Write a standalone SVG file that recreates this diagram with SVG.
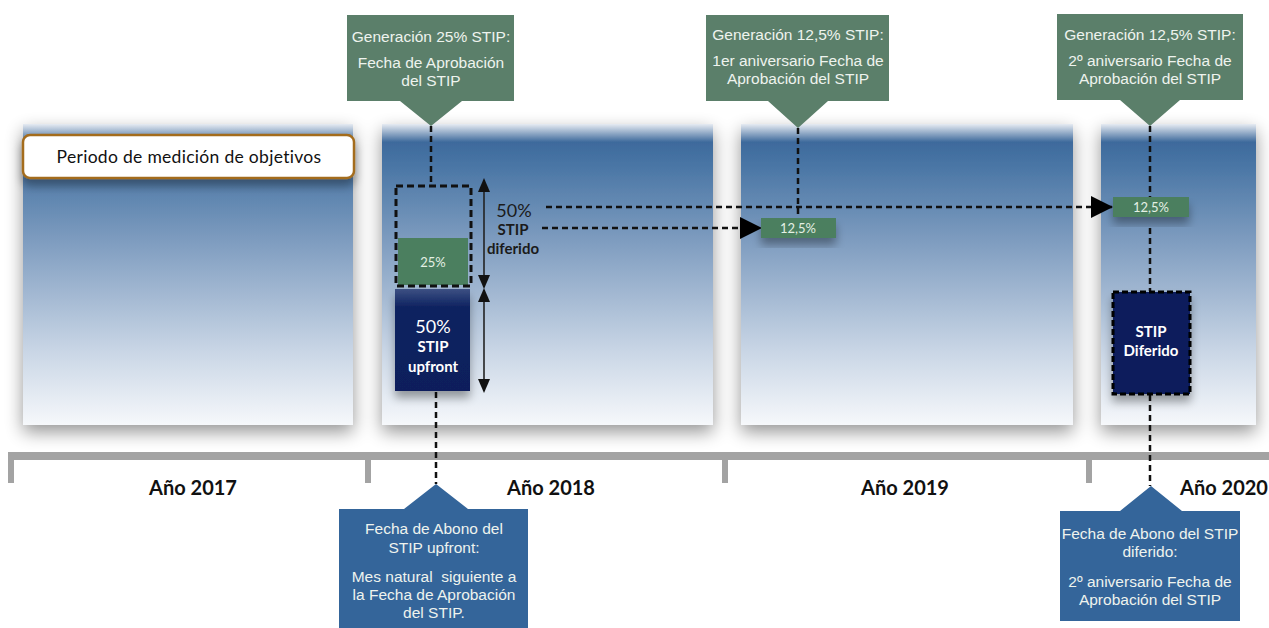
<svg xmlns="http://www.w3.org/2000/svg" width="1269" height="628" viewBox="0 0 1269 628">
  <defs>
    <style>
      .callout-top { fill: #5b7f6a; }
      .callout-bot { fill: #34659a; }
      .ctext { font-family: "Liberation Sans", Arial, sans-serif; font-size: 15.5px; fill: #eef3ee; text-anchor: middle; white-space: pre; }
      .year { font-family: Lato, "Open Sans", sans-serif; font-size: 20px; font-weight: bold; fill: #111; text-anchor: middle; }
      .pct { font-family: Lato, "Open Sans", sans-serif; font-size: 13px; fill: #e4f0e4; text-anchor: middle; }
      .bold-w { font-family: Lato, "Open Sans", sans-serif; font-size: 15px; font-weight: bold; fill: #ffffff; text-anchor: middle; }
      .bold-d { font-family: Lato, "Open Sans", sans-serif; font-size: 15px; font-weight: bold; fill: #1b1b1b; text-anchor: middle; }
      .big-w { font-family: Lato, "Open Sans", sans-serif; font-size: 18px; fill: #ffffff; text-anchor: middle; }
      .big-d { font-family: Lato, "Open Sans", sans-serif; font-size: 18px; fill: #1b1b1b; text-anchor: middle; }
      .dash { fill: none; stroke: #111; stroke-width: 2.5; stroke-dasharray: 6 4; }
      .dbl { stroke: #222; stroke-width: 1.6; }
      .green-box { fill: #4b7f5f; }
      .navy { fill: #0b1f5c; }
    </style>
    <linearGradient id="panelGrad" x1="0" y1="0" x2="0" y2="1">
      <stop offset="0" stop-color="#e6ebf2"/>
      <stop offset="0.06" stop-color="#3e6a9c"/>
      <stop offset="0.12" stop-color="#4673a3"/>
      <stop offset="0.45" stop-color="#8ba6c6"/>
      <stop offset="0.75" stop-color="#c8d5e5"/>
      <stop offset="1" stop-color="#f6f8fb"/>
    </linearGradient>
    <linearGradient id="navyGrad" x1="0" y1="0" x2="0" y2="1">
      <stop offset="0" stop-color="#3d5083"/>
      <stop offset="0.18" stop-color="#0d2260"/>
      <stop offset="1" stop-color="#0b1f5c"/>
    </linearGradient>
    <filter id="panelShadow" x="-20%" y="-20%" width="140%" height="140%">
      <feGaussianBlur in="SourceAlpha" stdDeviation="9"/>
      <feOffset dy="7" result="b"/>
      <feComponentTransfer><feFuncA type="linear" slope="0.42"/></feComponentTransfer>
      <feMerge><feMergeNode/><feMergeNode in="SourceGraphic"/></feMerge>
    </filter>
    <filter id="boxShadow" x="-30%" y="-30%" width="160%" height="180%">
      <feGaussianBlur in="SourceAlpha" stdDeviation="5"/>
      <feOffset dy="7" result="b"/>
      <feComponentTransfer><feFuncA type="linear" slope="0.35"/></feComponentTransfer>
      <feMerge><feMergeNode/><feMergeNode in="SourceGraphic"/></feMerge>
    </filter>
    <marker id="arrowBig" viewBox="0 0 22 22" refX="22" refY="11" markerWidth="22" markerHeight="22" markerUnits="userSpaceOnUse" orient="auto">
      <path d="M0,0 L22,11 L0,22 Z" fill="#000"/>
    </marker>
    <marker id="arrowSmall" viewBox="0 0 14 12" refX="12" refY="6" markerWidth="14" markerHeight="12" markerUnits="userSpaceOnUse" orient="auto-start-reverse">
      <path d="M0,0 L14,6 L0,12 Z" fill="#111"/>
    </marker>
  </defs>

  <rect width="1269" height="628" fill="#ffffff"/>

  <!-- year panels -->
  <g id="panels" filter="url(#panelShadow)">
    <rect x="23" y="124" width="330" height="301" fill="url(#panelGrad)"/>
    <rect x="382" y="124" width="331" height="301" fill="url(#panelGrad)"/>
    <rect x="741" y="124" width="332" height="301" fill="url(#panelGrad)"/>
    <rect x="1101" y="124" width="155" height="301" fill="url(#panelGrad)"/>
  </g>

  <!-- timeline axis -->
  <g id="timeline" fill="#a3a3a3">
    <rect x="8" y="452" width="1261" height="8"/>
    <rect x="8" y="452" width="6" height="31"/>
    <rect x="365" y="452" width="6" height="31"/>
    <rect x="722" y="452" width="6" height="31"/>
    <rect x="1086" y="452" width="6" height="31"/>
  </g>
  <g id="years">
    <text class="year" x="193" y="495">Año 2017</text>
    <text class="year" x="551" y="495">Año 2018</text>
    <text class="year" x="905" y="495">Año 2019</text>
    <text class="year" x="1224" y="495">Año 2020</text>
  </g>

  <!-- connectors -->
  <g id="connectors">
    <line class="dash" x1="431" y1="126" x2="431" y2="184"/>
    <line class="dash" x1="436" y1="392" x2="436" y2="484"/>
    <line class="dash" x1="798" y1="128" x2="798" y2="218"/>
    <line class="dash" x1="1150" y1="126" x2="1150" y2="197"/>
    <line class="dash" x1="1150" y1="228" x2="1150" y2="291"/>
    <line class="dash" x1="1150" y1="395" x2="1150" y2="486"/>
    <line class="dash" x1="546" y1="207" x2="1113" y2="207" marker-end="url(#arrowBig)"/>
    <line class="dash" x1="542" y1="228" x2="762" y2="228" marker-end="url(#arrowBig)"/>
    <line class="dbl" x1="484" y1="180" x2="484" y2="287" marker-start="url(#arrowSmall)" marker-end="url(#arrowSmall)"/>
    <line class="dbl" x1="484" y1="290" x2="484" y2="391" marker-start="url(#arrowSmall)" marker-end="url(#arrowSmall)"/>
  </g>

  <!-- measurement period label -->
  <g id="periodo">
    <rect x="23" y="135" width="331" height="43" rx="7" fill="#ffffff" stroke="#a46c1e" stroke-width="2.5" filter="url(#boxShadow)"/>
    <text x="189" y="163" font-family="Lato, 'Open Sans', sans-serif" font-size="17.5" fill="#111" text-anchor="middle" letter-spacing="0.3">Periodo de medición de objetivos</text>
  </g>

  <!-- 2018: deferred block with 25% -->
  <g id="diferido-2018">
    <rect x="398" y="238" width="70" height="47" class="green-box"/>
    <text class="pct" x="433" y="267">25%</text>
    <rect x="396" y="186" width="75" height="100" fill="none" stroke="#111" stroke-width="3" stroke-dasharray="7 4"/>
  </g>
  <g id="upfront-2018">
    <rect x="395" y="289" width="75" height="102" fill="url(#navyGrad)" filter="url(#boxShadow)"/>
    <text class="big-w" x="433" y="333">50%</text>
    <text class="bold-w" x="433" y="352">STIP</text>
    <text class="bold-w" x="433" y="372">upfront</text>
  </g>
  <g id="label-diferido">
    <text class="big-d" x="514" y="217">50%</text>
    <text class="bold-d" x="513" y="235">STIP</text>
    <text class="bold-d" x="513" y="254">diferido</text>
  </g>

  <!-- 2019: 12,5% -->
  <g id="pct-2019">
    <rect x="761" y="218" width="75" height="20" class="green-box" filter="url(#boxShadow)"/>
    <text class="pct" x="798" y="233">12,5%</text>
  </g>

  <!-- 2020: 12,5% and deferred STIP -->
  <g id="pct-2020">
    <rect x="1113" y="197" width="76" height="20" class="green-box" filter="url(#boxShadow)"/>
    <text class="pct" x="1151" y="212">12,5%</text>
  </g>
  <g id="stip-diferido-2020">
    <rect x="1113" y="292" width="77" height="102" class="navy" stroke="#000" stroke-width="3" stroke-dasharray="6 3" filter="url(#boxShadow)"/>
    <text class="bold-w" x="1151" y="337">STIP</text>
    <text class="bold-w" x="1151" y="356">Diferido</text>
  </g>

  <!-- top callouts -->
  <g id="gen-25">
    <path class="callout-top" d="M347,15 H514 V101 H462 L431,126 L400,101 H347 Z"/>
    <text class="ctext" x="431" y="42">Generación 25% STIP:</text>
    <text class="ctext" x="431" y="68">Fecha de Aprobación</text>
    <text class="ctext" x="431" y="86">del STIP</text>
  </g>
  <g id="gen-125-1">
    <path class="callout-top" d="M706,15 H889 V101 H828 L798,128 L768,101 H706 Z"/>
    <text class="ctext" x="798" y="40">Generación 12,5% STIP:</text>
    <text class="ctext" x="798" y="66">1er aniversario Fecha de</text>
    <text class="ctext" x="798" y="84">Aprobación del STIP</text>
  </g>
  <g id="gen-125-2">
    <path class="callout-top" d="M1057,14 H1243 V100 H1180 L1150,126 L1120,100 H1057 Z"/>
    <text class="ctext" x="1150" y="40">Generación 12,5% STIP:</text>
    <text class="ctext" x="1150" y="66">2º aniversario Fecha de</text>
    <text class="ctext" x="1150" y="84">Aprobación del STIP</text>
  </g>

  <!-- bottom callouts -->
  <g id="abono-upfront">
    <path class="callout-bot" d="M339,509 H404 L436,484 L468,509 H528 V628 H339 Z"/>
    <text class="ctext" x="434" y="534">Fecha de Abono del</text>
    <text class="ctext" x="434" y="553">STIP upfront:</text>
    <text class="ctext" x="434" y="582">Mes natural  siguiente a</text>
    <text class="ctext" x="434" y="600">la Fecha de Aprobación</text>
    <text class="ctext" x="434" y="618">del STIP.</text>
  </g>
  <g id="abono-diferido">
    <path class="callout-bot" d="M1060,511 H1120 L1151,486 L1182,511 H1240 V621 H1060 Z"/>
    <text class="ctext" x="1150" y="539">Fecha de Abono del STIP</text>
    <text class="ctext" x="1150" y="557">diferido:</text>
    <text class="ctext" x="1150" y="587">2º aniversario Fecha de</text>
    <text class="ctext" x="1150" y="605">Aprobación del STIP</text>
  </g>
</svg>
